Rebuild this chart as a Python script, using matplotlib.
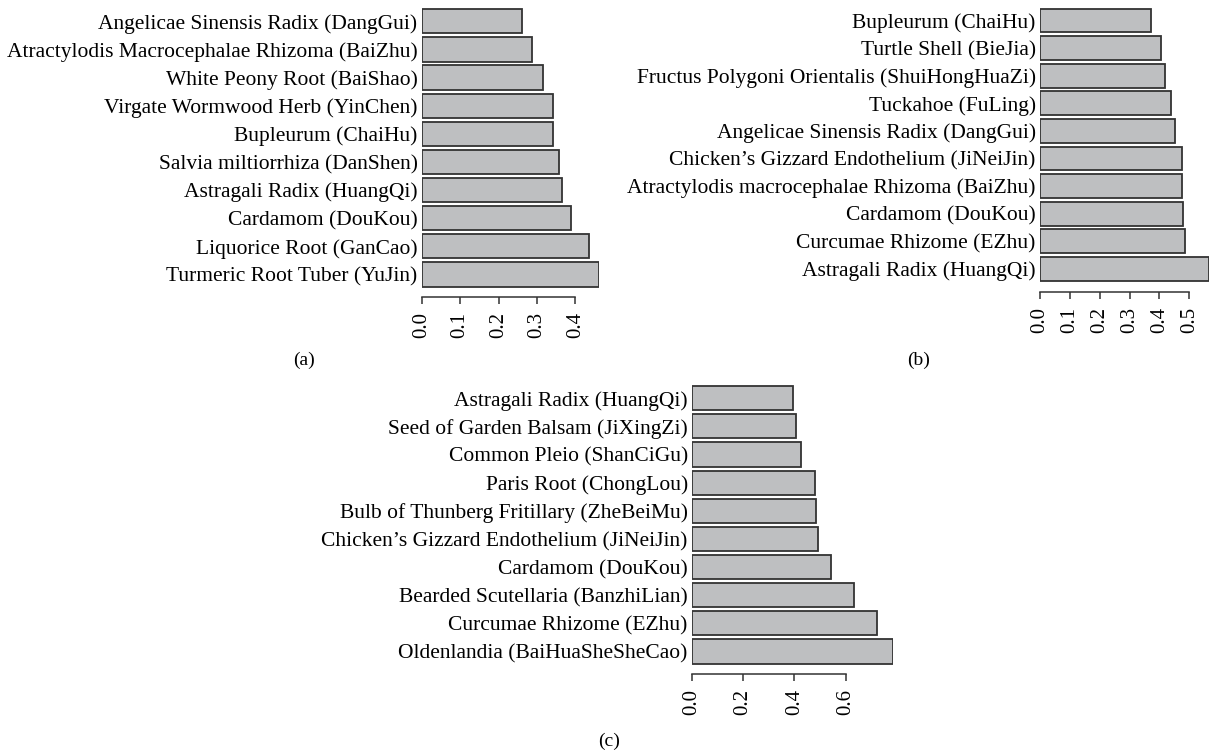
import matplotlib
matplotlib.use("Agg")
import matplotlib.pyplot as plt
import numpy as np

# ---- data (listed top to bottom as displayed) ----
labels_a = ["Angelicae Sinensis Radix (DangGui)",
            "Atractylodis Macrocephalae Rhizoma (BaiZhu)",
            "White Peony Root (BaiShao)",
            "Virgate Wormwood Herb (YinChen)",
            "Bupleurum (ChaiHu)",
            "Salvia miltiorrhiza (DanShen)",
            "Astragali Radix (HuangQi)",
            "Cardamom (DouKou)",
            "Liquorice Root (GanCao)",
            "Turmeric Root Tuber (YuJin)"]
values_a = [0.262, 0.286, 0.315, 0.342, 0.342, 0.358, 0.365, 0.389, 0.434, 0.462]
ticks_a = [0.0, 0.1, 0.2, 0.3, 0.4]

labels_b = ["Bupleurum (ChaiHu)",
            "Turtle Shell (BieJia)",
            "Fructus Polygoni Orientalis (ShuiHongHuaZi)",
            "Tuckahoe (FuLing)",
            "Angelicae Sinensis Radix (DangGui)",
            "Chicken\u2019s Gizzard Endothelium (JiNeiJin)",
            "Atractylodis macrocephalae Rhizoma (BaiZhu)",
            "Cardamom (DouKou)",
            "Curcumae Rhizome (EZhu)",
            "Astragali Radix (HuangQi)"]
values_b = [0.371, 0.404, 0.420, 0.438, 0.452, 0.477, 0.477, 0.480, 0.487, 0.567]
ticks_b = [0.0, 0.1, 0.2, 0.3, 0.4, 0.5]

labels_c = ["Astragali Radix (HuangQi)",
            "Seed of Garden Balsam (JiXingZi)",
            "Common Pleio (ShanCiGu)",
            "Paris Root (ChongLou)",
            "Bulb of Thunberg Fritillary (ZheBeiMu)",
            "Chicken\u2019s Gizzard Endothelium (JiNeiJin)",
            "Cardamom (DouKou)",
            "Bearded Scutellaria (BanzhiLian)",
            "Curcumae Rhizome (EZhu)",
            "Oldenlandia (BaiHuaSheSheCao)"]
values_c = [0.394, 0.407, 0.426, 0.479, 0.484, 0.493, 0.544, 0.631, 0.721, 0.784]
ticks_c = [0.0, 0.2, 0.4, 0.6]

captions = ["(a)", "(b)", "(c)"]

# ---- style ----
W, H = 1210, 752
DPI = 100
FONT = ["Liberation Serif", "DejaVu Serif"]
plt.rcParams['font.family'] = FONT
BAR = "#bebfc1"
EDGE = "#333333"
LAB_FS = 15.5
TICK_FS = 15

fig = plt.figure(figsize=(W / DPI, H / DPI), dpi=DPI)
fig.patch.set_facecolor("white")


def panel(x0, x1, ytop, ybot, offset_px, labels, values, ticks):
    ax = fig.add_axes([x0 / W, 1 - ybot / H, (x1 - x0) / W, (ybot - ytop) / H])
    n = len(values)
    ypos = np.arange(n)[::-1]
    ax.barh(ypos, values, height=0.86, color=BAR, edgecolor=EDGE, linewidth=1.3)
    ax.set_xlim(0, max(values))
    ax.set_ylim(-0.5, n - 0.5)
    ax.set_yticks(ypos)
    ax.set_yticklabels(labels, fontsize=LAB_FS)
    ax.tick_params(axis='y', length=0, pad=3)
    for s in ("top", "right", "left"):
        ax.spines[s].set_visible(False)
    ax.spines["bottom"].set_position(("outward", offset_px * 72 / DPI))
    ax.spines["bottom"].set_bounds(ticks[0], ticks[-1])
    ax.spines["bottom"].set_color(EDGE)
    ax.spines["bottom"].set_linewidth(1.1)
    ax.set_xticks(ticks)
    ax.set_xticklabels([f"{t:.1f}" for t in ticks], rotation=90, fontsize=TICK_FS)
    ax.tick_params(axis='x', length=5, width=1.1, color=EDGE, pad=6)
    ax.patch.set_alpha(0)
    return ax


panel(421.7, 599.3, 7.2, 288.6, 8.4, labels_a, values_a, ticks_a)
panel(1040.0, 1209.3, 6.8, 282.6, 9.4, labels_b, values_b, ticks_b)
panel(692.0, 892.7, 384.1, 665.6, 8.4, labels_c, values_c, ticks_c)

for cap, (cx, cy) in zip(captions, [(304, 360), (919, 360), (609, 741)]):
    fig.text(cx / W, 1 - cy / H, cap, ha="center", va="center", fontsize=14,
             family=FONT)

fig.savefig("out.png", dpi=DPI)
